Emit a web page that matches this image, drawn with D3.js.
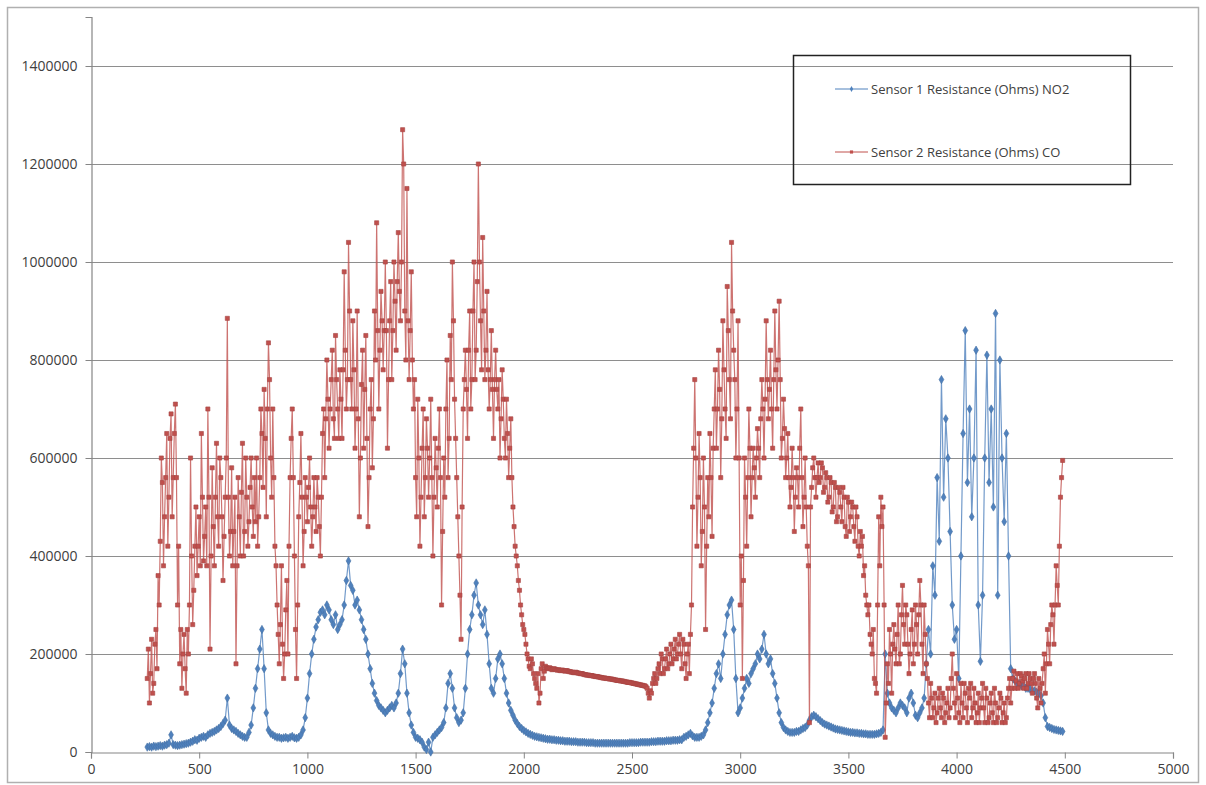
<!DOCTYPE html>
<html>
<head>
<meta charset="utf-8">
<script src="https://cdn.jsdelivr.net/npm/d3@7"></script>
<style>
  body { margin: 0; background: #fff; }
  #viz { width: 1206px; height: 785px; }
  text { font-family: "Open Sans", "Liberation Sans", sans-serif; fill: #404040; }
</style>
</head>
<body>
<div id="viz"></div>
<script>
// axis ticks
var xTicks = [0, 500, 1000, 1500, 2000, 2500, 3000, 3500, 4000, 4500, 5000];
var yTicks = [0, 200000, 400000, 600000, 800000, 1000000, 1200000, 1400000];

var seriesNames = ["Sensor 1 Resistance (Ohms) NO2", "Sensor 2 Resistance (Ohms) CO"];

// sample numbers of the readings
var no2X = d3.range(260, 4500, 10);
var coX = d3.range(260, 4495, 5);

// sensor 1 (NO2), thousands of ohms, one row per 100 samples
var no2Values = [
  10, 11, 10, 12, 11, 12, 13, 12, 14, 15,
  18, 35, 15, 14, 13, 14, 15, 16, 17, 18,
  20, 22, 25, 24, 28, 30, 32, 30, 35, 38,
  40, 42, 45, 48, 52, 58, 65, 110, 55, 48,
  45, 42, 38, 35, 32, 30, 30, 40, 55, 90,
  130, 170, 210, 250, 170, 80, 45, 38, 35, 32,
  30, 30, 28, 29, 30, 28, 30, 32, 29, 28,
  30, 35, 45, 70, 110, 160, 200, 230, 255, 270,
  285, 290, 280, 300, 290, 270, 260, 280, 250, 260,
  270, 300, 350, 390, 340, 330, 300, 310, 290, 270,
  250, 230, 200, 170, 140, 120, 105, 95, 90, 85,
  80, 85, 90, 95, 90, 100, 120, 160, 210, 180,
  120, 80, 55, 40, 30, 28, 25, 20, 10, 5,
  20, 0, 30, 35, 40, 45, 50, 60, 90, 140,
  160, 130, 90, 70, 60, 65, 80, 130, 200, 250,
  280, 320, 345, 300, 280, 260, 290, 240, 180, 130,
  120, 150, 190, 200, 180, 150, 120, 100, 85, 75,
  65, 58, 52, 48, 44, 41, 38, 36, 34, 32,
  31, 30, 29, 28, 27, 26, 26, 25, 25, 24,
  24, 23, 23, 22, 22, 22, 21, 21, 21, 20,
  20, 20, 20, 19, 19, 19, 19, 18, 18, 18,
  18, 18, 18, 18, 18, 18, 18, 18, 18, 18,
  18, 18, 18, 19, 19, 19, 19, 19, 20, 20,
  20, 20, 20, 21, 21, 21, 22, 22, 22, 22,
  23, 23, 23, 24, 24, 24, 25, 25, 30, 32,
  35, 38, 33, 30, 30, 30, 32, 35, 45, 60,
  80, 100, 130, 160, 180, 150, 200, 240, 280, 300,
  310, 250, 150, 80, 90, 110, 130, 150, 140, 160,
  170, 180, 200, 190, 210, 240, 200, 180, 190, 160,
  140, 110, 80, 60, 50, 45, 42, 40, 40, 40,
  42, 42, 45, 48, 50, 55, 65, 72, 75, 72,
  68, 64, 60, 57, 55, 53, 51, 49, 47, 46,
  45, 44, 43, 42, 41, 40, 40, 39, 39, 38,
  38, 37, 37, 36, 36, 36, 36, 37, 38, 40,
  45, 200, 120, 100, 90, 85, 80, 90, 100, 95,
  90, 80, 110, 120, 100, 75, 70, 80, 90, 110,
  180, 250, 200, 380, 320, 560, 430, 760, 520, 680,
  600, 450, 300, 230, 250, 150, 400, 650, 860, 550,
  700, 480, 600, 820, 300, 185, 320, 600, 810, 550,
  700, 500, 895, 320, 800, 600, 470, 650, 400, 170,
  150, 145, 140, 140, 135, 135, 130, 130, 128, 125,
  125, 122, 120, 115, 100, 70, 52, 50, 48, 46,
  45, 44, 43, 42
];

// sensor 2 (CO), thousands of ohms, one row per 100 samples
var coValues = [
  150, 210, 100, 160, 230, 120, 140, 220, 250, 170, 360, 300, 430, 600, 550, 380, 480, 560, 650, 420,
  520, 640, 690, 480, 560, 650, 710, 560, 300, 420, 180, 250, 130, 200, 240, 170, 120, 250, 200, 300,
  600, 400, 260, 330, 420, 500, 360, 420, 480, 380, 650, 520, 390, 440, 500, 380, 700, 520, 210, 400,
  580, 460, 380, 520, 630, 480, 420, 600, 560, 480, 350, 440, 520, 600, 885, 520, 400, 450, 580, 380,
  450, 520, 180, 380, 560, 480, 400, 530, 630, 400, 450, 600, 520, 420, 470, 540, 600, 500, 440, 560,
  470, 600, 420, 480, 560, 700, 650, 540, 740, 640, 480, 700, 835, 760, 600, 520, 700, 560, 420, 380,
  300, 240, 180, 260, 380, 220, 150, 200, 290, 350, 200, 420, 560, 640, 700, 560, 400, 250, 150, 300,
  480, 550, 650, 520, 380, 450, 560, 520, 470, 540, 600, 500, 420, 480, 560, 500, 450, 560, 520, 460,
  400, 520, 650, 700, 560, 680, 800, 720, 620, 700, 760, 820, 680, 640, 850, 760, 700, 640, 780, 720,
  640, 780, 980, 820, 700, 760, 1040, 900, 760, 700, 880, 780, 620, 700, 900, 680, 480, 600, 750, 820,
  620, 740, 850, 640, 460, 560, 700, 760, 580, 680, 900, 800, 1080, 860, 700, 820, 940, 880, 780, 860,
  1000, 860, 620, 760, 880, 960, 760, 860, 1000, 920, 820, 960, 1060, 940, 880, 1000, 1270, 1200, 900, 800,
  1150, 880, 760, 860, 980, 800, 700, 760, 560, 480, 720, 600, 420, 520, 620, 700, 480, 560, 680, 620,
  520, 600, 720, 560, 400, 520, 640, 580, 500, 620, 700, 560, 300, 450, 600, 520, 700, 800, 560, 640,
  850, 760, 1000, 880, 720, 640, 560, 480, 400, 320, 230, 500, 700, 760, 820, 740, 640, 820, 900, 700,
  760, 900, 1000, 760, 820, 960, 1200, 1000, 880, 780, 1050, 900, 760, 820, 940, 780, 700, 760, 860, 740,
  640, 760, 820, 740, 700, 760, 600, 680, 780, 720, 640, 600, 720, 650, 560, 620, 680, 560, 500, 460,
  420, 400, 380, 350, 330, 300, 280, 260, 250, 240, 220, 200, 190, 175, 170, 190, 180, 160, 150, 140,
  130, 160, 100, 120, 170, 180, 150, 165, 175, 172, 170, 171, 172, 170, 168, 169, 170, 169, 168, 167,
  168, 167, 166, 167, 167, 166, 165, 166, 166, 165, 164, 164, 163, 163, 162, 162, 163, 162, 161, 161,
  160, 160, 160, 159, 158, 158, 157, 157, 157, 156, 156, 156, 155, 155, 154, 154, 154, 153, 153, 152,
  152, 151, 151, 151, 150, 150, 150, 149, 149, 149, 148, 148, 147, 147, 146, 146, 146, 145, 145, 145,
  144, 144, 143, 143, 142, 142, 142, 141, 141, 140, 140, 139, 139, 138, 138, 137, 137, 136, 136, 135,
  135, 133, 130, 120, 110, 125, 120, 140, 150, 160, 140, 150, 170, 180, 160, 200, 190, 160, 170, 190,
  210, 170, 180, 200, 220, 180, 190, 210, 230, 190, 200, 220, 240, 200, 170, 230, 220, 180, 150, 200,
  220, 160, 240, 300, 500, 620, 760, 600, 420, 520, 650, 560, 380, 450, 600, 500, 250, 420, 560, 480,
  650, 560, 440, 620, 700, 780, 620, 700, 820, 740, 560, 680, 880, 780, 700, 640, 950, 860, 760, 680,
  1040, 900, 820, 760, 600, 700, 880, 600, 300, 400, 150, 350, 600, 520, 420, 560, 700, 620, 480, 560,
  620, 580, 520, 600, 660, 620, 560, 680, 760, 700, 600, 720, 880, 760, 680, 740, 820, 700, 620, 760,
  900, 780, 700, 800, 920, 760, 600, 640, 720, 660, 560, 600, 650, 560, 500, 540, 620, 560, 450, 520,
  580, 560, 500, 620, 700, 560, 460, 520, 600, 500, 420, 380, 60, 500, 540, 580, 600, 560, 520, 560,
  590, 550, 560, 590, 580, 530, 540, 570, 560, 510, 520, 560, 550, 490, 500, 550, 540, 470, 480, 540,
  530, 500, 470, 540, 520, 460, 440, 520, 510, 450, 480, 510, 500, 460, 430, 500, 480, 420, 400, 450,
  420, 440, 360, 380, 320, 300, 280, 300, 240, 220, 200, 250, 150, 140, 120, 300, 480, 380, 520, 460,
  500, 300, 30, 100, 180, 140, 250, 200, 120, 220, 260, 210, 180, 240, 300, 180, 200, 280, 340, 260,
  220, 300, 280, 220, 160, 200, 250, 290, 180, 220, 300, 260, 200, 280, 350, 300, 220, 160, 300, 240,
  180, 150, 100, 70, 140, 110, 70, 90, 120, 60, 80, 110, 130, 90, 70, 120, 110, 60, 80, 100,
  130, 70, 90, 150, 200, 130, 100, 70, 160, 110, 80, 60, 140, 100, 70, 140, 120, 90, 60, 130,
  110, 140, 70, 90, 130, 100, 60, 80, 120, 60, 90, 110, 140, 90, 60, 130, 110, 60, 70, 100,
  120, 80, 60, 130, 100, 60, 70, 90, 120, 110, 60, 80, 100, 60, 70, 110, 130, 150, 100, 130,
  150, 165, 130, 145, 160, 130, 140, 160, 155, 145, 130, 150, 160, 130, 140, 160, 150, 140, 120, 150,
  160, 140, 110, 90, 150, 130, 100, 140, 170, 200, 120, 180, 250, 220, 180, 260, 300, 280, 220, 300,
  380, 340, 300, 420, 520, 560, 595
];

var colors = ["#4F81BD", "#C0504D"];

var W = 1206, H = 785;
var plot = {left: 91, right: 1173, top: 17, bottom: 752};

var svg = d3.select("#viz").append("svg")
    .attr("width", W)
    .attr("height", H);

// chart area border
svg.append("rect")
    .attr("x", 7.5).attr("y", 7.5)
    .attr("width", W - 15).attr("height", H - 10)
    .attr("fill", "#fff")
    .attr("stroke", "#b0b0b0")
    .attr("stroke-width", 1.5);

var x = d3.scaleLinear().domain([0, 5000]).range([plot.left, plot.right]);
var y = d3.scaleLinear().domain([0, 1500000]).range([plot.bottom, plot.top]);

// horizontal gridlines
svg.append("g")
    .selectAll("line")
    .data(yTicks.filter(function(d) { return d > 0; }))
    .enter().append("line")
    .attr("x1", plot.left).attr("x2", plot.right)
    .attr("y1", function(d) { return Math.round(y(d)) + 0.5; })
    .attr("y2", function(d) { return Math.round(y(d)) + 0.5; })
    .attr("stroke", "#8e8e8e")
    .attr("stroke-width", 1);

// axes
var yAxis = d3.axisLeft(y).tickValues(yTicks).tickSize(6).tickPadding(8)
    .tickFormat(d3.format("d"));
var xAxis = d3.axisBottom(x).tickValues(xTicks).tickSize(6).tickPadding(6)
    .tickFormat(d3.format("d"));

var gy = svg.append("g")
    .attr("transform", "translate(" + (plot.left + 0.5) + ",0)")
    .call(yAxis);
var gx = svg.append("g")
    .attr("transform", "translate(0," + (plot.bottom + 0.5) + ")")
    .call(xAxis);

[gx, gy].forEach(function(g) {
  g.select(".domain").attr("stroke", "#868686").attr("stroke-width", 1.2);
  g.selectAll(".tick line").attr("stroke", "#868686");
  g.selectAll(".tick text")
      .attr("fill", "#404040")
      .style("font-family", "'Open Sans', 'Liberation Sans', sans-serif")
      .style("font-size", "14px");
});

// series (sensor 1 first, sensor 2 drawn on top like Excel)
var series = [
  {name: seriesNames[0], color: colors[0], symbol: d3.symbolDiamond, size: 20, xs: no2X, vals: no2Values},
  {name: seriesNames[1], color: colors[1], symbol: d3.symbolSquare, size: 17, xs: coX, vals: coValues}
];
series.forEach(function(s) {
  s.points = s.vals.map(function(v, j) { return {x: s.xs[j], y: v * 1000}; });
});

var line = d3.line()
    .x(function(d) { return x(d.x); })
    .y(function(d) { return y(d.y); });

var gs = svg.append("g").attr("class", "series")
    .selectAll("g")
    .data(series)
    .enter().append("g");

gs.append("path")
    .attr("d", function(s) { return line(s.points); })
    .attr("fill", "none")
    .attr("stroke", function(s) { return s.color; })
    .attr("stroke-width", 1.2)
    .attr("stroke-opacity", 0.8);

gs.each(function(s) {
  d3.select(this).append("g")
      .selectAll("path")
      .data(s.points)
      .enter().append("path")
      .attr("d", d3.symbol().type(s.symbol).size(s.size))
      .attr("transform", function(d) { return "translate(" + x(d.x) + "," + y(d.y) + ")"; })
      .attr("fill", s.color)
      .attr("stroke", d3.color(s.color).darker(0.4))
      .attr("stroke-width", 0.6);
});

// legend (transparent, gridlines show through)
var legend = svg.append("g");
legend.append("rect")
    .attr("x", 793.5).attr("y", 55.5)
    .attr("width", 337).attr("height", 129)
    .attr("fill", "none")
    .attr("stroke", "#222")
    .attr("stroke-width", 1.5);

var legendY = [89, 152];
series.forEach(function(s, i) {
  legend.append("line")
      .attr("x1", 835).attr("x2", 868)
      .attr("y1", legendY[i]).attr("y2", legendY[i])
      .attr("stroke", s.color)
      .attr("stroke-width", 1);
  legend.append("path")
      .attr("d", d3.symbol().type(s.symbol).size(10))
      .attr("transform", "translate(851.5," + legendY[i] + ")")
      .attr("fill", s.color);
  legend.append("text")
      .attr("x", 871)
      .attr("y", legendY[i])
      .attr("dy", "0.35em")
      .style("font-size", "13px")
      .text(s.name);
});
</script>
</body>
</html>
